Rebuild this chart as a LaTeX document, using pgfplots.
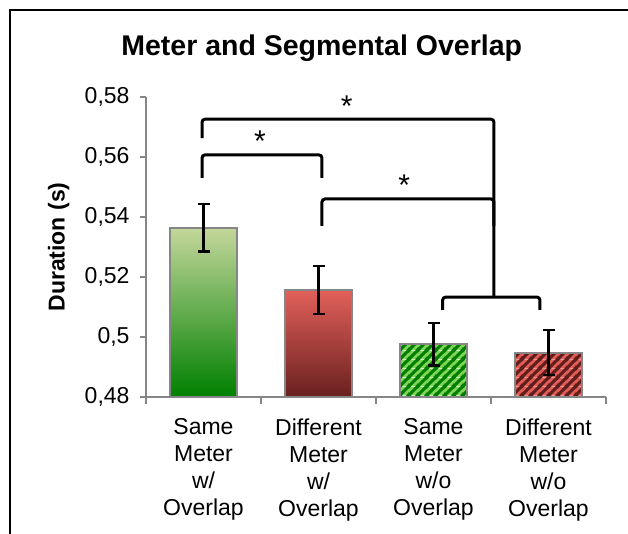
\documentclass[border=0pt]{standalone}
\usepackage{pgfplots}
\pgfplotsset{compat=1.18}
\usepackage{fontspec}
\setmainfont{Liberation Sans}
\usetikzlibrary{patterns}
\definecolor{axisgray}{RGB}{134,134,134}
\definecolor{gTop}{RGB}{196,215,155}
\definecolor{gBot}{RGB}{0,128,0}
\definecolor{rTop}{RGB}{226,96,90}
\definecolor{rMid}{RGB}{205,85,80}
\definecolor{rBot}{RGB}{105,32,30}
\definecolor{gLight}{RGB}{125,215,85}
\definecolor{gDark}{RGB}{0,125,0}
\definecolor{rLight}{RGB}{226,92,86}
\definecolor{rDark}{RGB}{95,30,28}
\pgfdeclarepatterninherentlycolored{gstripes}{\pgfqpoint{0bp}{0bp}}{\pgfqpoint{8.7bp}{8.7bp}}{\pgfqpoint{8.7bp}{8.7bp}}{%
  \pgfsetfillcolor{gLight}\pgfpathrectangle{\pgfpointorigin}{\pgfqpoint{8.7bp}{8.7bp}}\pgfusepath{fill}%
  \pgfsetstrokecolor{gDark}\pgfsetlinewidth{3.1bp}%
  \pgfpathmoveto{\pgfqpoint{-3bp}{-3bp}}\pgfpathlineto{\pgfqpoint{11.7bp}{11.7bp}}%
  \pgfpathmoveto{\pgfqpoint{-3bp}{5.7bp}}\pgfpathlineto{\pgfqpoint{3bp}{11.7bp}}%
  \pgfpathmoveto{\pgfqpoint{5.7bp}{-3bp}}\pgfpathlineto{\pgfqpoint{11.7bp}{3bp}}%
  \pgfusepath{stroke}}
\pgfdeclarepatterninherentlycolored{rstripes}{\pgfqpoint{0bp}{0bp}}{\pgfqpoint{8.7bp}{8.7bp}}{\pgfqpoint{8.7bp}{8.7bp}}{%
  \pgfsetfillcolor{rLight}\pgfpathrectangle{\pgfpointorigin}{\pgfqpoint{8.7bp}{8.7bp}}\pgfusepath{fill}%
  \pgfsetstrokecolor{rDark}\pgfsetlinewidth{3.1bp}%
  \pgfpathmoveto{\pgfqpoint{-3bp}{-3bp}}\pgfpathlineto{\pgfqpoint{11.7bp}{11.7bp}}%
  \pgfpathmoveto{\pgfqpoint{-3bp}{5.7bp}}\pgfpathlineto{\pgfqpoint{3bp}{11.7bp}}%
  \pgfpathmoveto{\pgfqpoint{5.7bp}{-3bp}}\pgfpathlineto{\pgfqpoint{11.7bp}{3bp}}%
  \pgfusepath{stroke}}
\begin{document}
\begin{tikzpicture}
\path[use as bounding box] (0,0) rectangle (628bp,534bp);
\draw[black, line width=2.5bp] (10bp,-2bp) -- (10bp,524bp) -- (630bp,524bp);
\begin{axis}[
  at={(146bp,137bp)}, anchor=south west,
  scale only axis, width=460bp, height=300bp,
  xmin=-0.5, xmax=3.5, ymin=0.48, ymax=0.58,
  clip=false,
  axis x line*=bottom, axis y line*=left,
  axis line style={axisgray, line width=2bp, -},
  tick align=outside,
  ytick={0.48,0.50,0.52,0.54,0.56,0.58},
  major tick length=6bp,
  minor tick length=7bp,
  ytick style={axisgray, line width=2bp},
  xtick={0,1,2,3},
  xticklabels={{Same\\Meter\\w/\\Overlap},{Different\\Meter\\w/\\Overlap},{Same\\Meter\\w/o\\Overlap},{Different\\Meter\\w/o\\Overlap}},
  major x tick style={draw=none},
  minor xtick={-0.5,0.5,1.5,2.5,3.5},
  minor x tick style={axisgray, line width=2bp},
  xticklabel style={font=\fontsize{23bp}{27bp}\selectfont, align=center, yshift=-12bp},
  yticklabel style={font=\fontsize{23bp}{27bp}\selectfont, xshift=-7bp},
  /pgf/number format/.cd, fixed, use comma, precision=2, assume math mode=true,
  /pgfplots/.cd,
  ylabel={Duration (s)},
  ylabel style={font=\bfseries\fontsize{23bp}{27bp}\selectfont, at={(axis description cs:-0.19,0.5)}, anchor=center},
  title={Meter and Segmental Overlap},
  title style={font=\bfseries\fontsize{28.5bp}{33bp}\selectfont, at={(axis description cs:0.382,1.12)}, anchor=base},
]
% bars
\addplot[draw=axisgray, line width=2bp, top color=gTop, bottom color=gBot]
  coordinates {(-0.287,0.48) (-0.287,0.5364) (0.287,0.5364) (0.287,0.48)} -- cycle;
\addplot[draw=axisgray, line width=2bp, top color=rTop, middle color=rMid, bottom color=rBot]
  coordinates {(0.713,0.48) (0.713,0.5157) (1.287,0.5157) (1.287,0.48)} -- cycle;
\addplot[draw=axisgray, line width=2bp, pattern=gstripes]
  coordinates {(1.713,0.48) (1.713,0.4976) (2.287,0.4976) (2.287,0.48)} -- cycle;
\addplot[draw=axisgray, line width=2bp, pattern=rstripes]
  coordinates {(2.713,0.48) (2.713,0.4948) (3.287,0.4948) (3.287,0.48)} -- cycle;
% error bars
\addplot[draw=none, error bars/.cd, y dir=both, y explicit,
  error bar style={draw=black, line width=2.5bp},
  error mark options={rotate=90, draw=black, mark size=6bp, line width=2.5bp}]
  coordinates {(0,0.5364) +- (0,0.0079) (1,0.5157) +- (0,0.0080) (2,0.4976) +- (0,0.0071) (3,0.4948) +- (0,0.0075)};
% significance brackets
\addplot[black, line width=3bp, rounded corners=3bp] coordinates {(-0.013,0.553) (-0.013,0.5607) (1.03,0.5607) (1.03,0.553)};
\addplot[black, line width=3bp, rounded corners=3bp] coordinates {(-0.013,0.5663) (-0.013,0.5726) (2.526,0.5726) (2.526,0.5133)};
\addplot[black, line width=3bp, rounded corners=3bp] coordinates {(1.03,0.537) (1.03,0.546) (2.526,0.546) (2.526,0.537)};
\addplot[black, line width=3bp, rounded corners=3bp] coordinates {(2.08,0.509) (2.08,0.5133) (2.926,0.5133) (2.926,0.509)};
\node[font=\fontsize{30bp}{30bp}\selectfont] at (axis cs:1.246,0.5768) {*};
\node[font=\fontsize{30bp}{30bp}\selectfont] at (axis cs:0.49,0.5654) {*};
\node[font=\fontsize{30bp}{30bp}\selectfont] at (axis cs:1.746,0.5505) {*};
\end{axis}
\end{tikzpicture}
\end{document}
